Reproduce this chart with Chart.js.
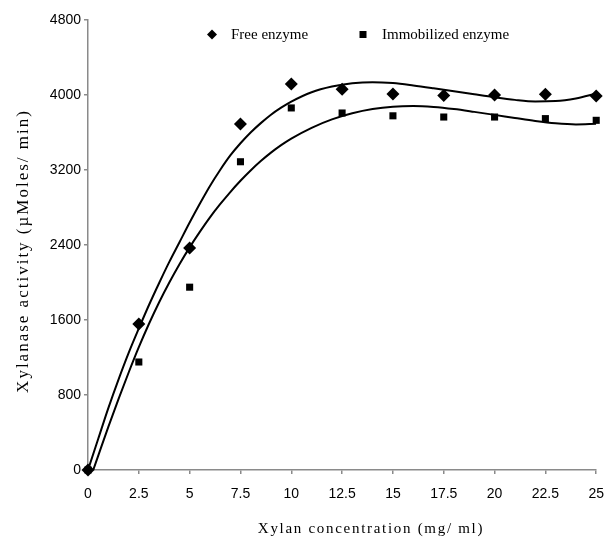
<!DOCTYPE html>
<html>
<head>
<meta charset="utf-8">
<script src="https://cdn.jsdelivr.net/npm/chart.js@4/dist/chart.umd.min.js"></script>
<style>
html,body{margin:0;padding:0;background:#fff;}
#wrap{width:616px;height:538px;position:relative;}
</style>
</head>
<body>
<div id="wrap"><canvas id="c" width="616" height="538"></canvas></div>
<script>
// ---- data ----
const concentrations = [0, 2.5, 5, 7.5, 10, 12.5, 15, 17.5, 20, 22.5, 25];
const freeEnzyme = [0, 1557, 2368, 3692, 4118, 4062, 4010, 3996, 4000, 4007, 3990];
const immobilizedEnzyme = [0, 1152, 1950, 3288, 3862, 3808, 3778, 3765, 3765, 3748, 3730];

// trend curves
const freeFitX = [0, 0.5, 1, 1.5, 2, 2.5, 3, 3.5, 4, 4.5, 5, 5.5, 6, 6.5, 7, 7.5, 8, 8.5, 9, 9.5, 10, 11, 12, 13, 14, 15, 16, 17, 18, 19, 20, 21, 22, 23, 24, 25];
const freeFitY = [0, 330, 660, 965, 1250, 1510, 1760, 1995, 2220, 2430, 2640, 2840, 3030, 3200, 3355, 3485, 3600, 3700, 3790, 3865, 3930, 4030, 4090, 4125, 4137, 4127, 4102, 4072, 4040, 4007, 3975, 3948, 3932, 3935, 3962, 4015];
const immobFitX = [0, 0.5, 1, 1.5, 2, 2.5, 3, 3.5, 4, 4.5, 5, 5.5, 6, 6.5, 7, 7.5, 8, 8.5, 9, 9.5, 10, 11, 12, 13, 14, 15, 16, 17, 18, 19, 20, 21, 22, 23, 24, 25];
const immobFitY = [-160, 150, 460, 755, 1040, 1310, 1560, 1790, 2000, 2195, 2375, 2540, 2695, 2835, 2965, 3085, 3195, 3295, 3385, 3465, 3535, 3650, 3740, 3805, 3850, 3875, 3882, 3872, 3850, 3820, 3788, 3755, 3723, 3698, 3686, 3692];

const xTicks = [0, 2.5, 5, 7.5, 10, 12.5, 15, 17.5, 20, 22.5, 25];
const yTicks = [0, 800, 1600, 2400, 3200, 4000, 4800];

const seriesNames = ['Free enzyme', 'Immobilized enzyme'];
const xTitle = 'Xylan concentration (mg/ ml)';
const yTitle = 'Xylanase activity (\u00B5Moles/ min)';

// ---- build ----
const toPts = (xs, ys) => xs.map((x, i) => ({x: x, y: ys[i]}));
const AXIS = '#8a8a8a';

const decor = {
  id: 'decor',
  afterDraw(chart) {
    const ctx = chart.ctx, a = chart.chartArea;
    ctx.save();
    ctx.fillStyle = '#000';
    // legend
    ctx.font = '15px "Liberation Serif", serif';
    ctx.textAlign = 'left';
    ctx.textBaseline = 'alphabetic';
    const ly = a.top + 14.5;
    // diamond
    let cx = a.left + 124;
    ctx.beginPath();
    ctx.moveTo(cx, ly - 5); ctx.lineTo(cx + 5, ly); ctx.lineTo(cx, ly + 5); ctx.lineTo(cx - 5, ly);
    ctx.closePath(); ctx.fill();
    ctx.fillText(seriesNames[0], a.left + 143, ly + 4.5);
    // square
    cx = a.left + 275;
    ctx.fillRect(cx - 3.5, ly - 3.5, 7, 7);
    ctx.fillText(seriesNames[1], a.left + 294, ly + 4.5);

    // x title
    ctx.font = '15px "Liberation Serif", serif';
    try { ctx.letterSpacing = '1.7px'; } catch (e) {}
    ctx.textAlign = 'center';
    ctx.textBaseline = 'alphabetic';
    ctx.fillText(xTitle, 371, 533);
    // y title
    ctx.font = '17px "Liberation Serif", serif';
    try { ctx.letterSpacing = '2px'; } catch (e) {}
    ctx.translate(24, 251);
    ctx.rotate(-Math.PI / 2);
    ctx.textBaseline = 'middle';
    ctx.fillText(yTitle, 0, 0);
    ctx.restore();
  }
};

new Chart(document.getElementById('c'), {
  type: 'scatter',
  data: {
    datasets: [
      {
        label: seriesNames[0],
        data: toPts(concentrations, freeEnzyme),
        pointStyle: 'rectRot', pointRadius: 6.5,
        backgroundColor: '#000', borderColor: '#000', borderWidth: 0,
        showLine: false, clip: false
      },
      {
        label: seriesNames[1],
        data: toPts(concentrations, immobilizedEnzyme),
        pointStyle: 'rect', pointRadius: 5,
        backgroundColor: '#000', borderColor: '#000', borderWidth: 0,
        showLine: false, clip: false
      },
      {
        label: 'fit1',
        data: toPts(freeFitX, freeFitY),
        showLine: true, pointRadius: 0, borderColor: '#000', borderWidth: 2,
        cubicInterpolationMode: 'monotone', fill: false
      },
      {
        label: 'fit2',
        data: toPts(immobFitX, immobFitY),
        showLine: true, pointRadius: 0, borderColor: '#000', borderWidth: 2,
        cubicInterpolationMode: 'monotone', fill: false
      }
    ]
  },
  options: {
    responsive: false,
    animation: false,
    events: [],
    layout: { padding: { top: 20, right: 16, left: 0, bottom: 0 } },
    plugins: { legend: { display: false }, tooltip: { enabled: false } },
    scales: {
      x: {
        type: 'linear', min: 0, max: 25,
        afterBuildTicks: s => { s.ticks = xTicks.map(v => ({ value: v })); },
        afterFit: s => { s.height = 68; },
        ticks: {
          color: '#000', padding: 12, maxRotation: 0, autoSkip: false,
          font: { family: '"Liberation Sans", Arial, sans-serif', size: 14 },
          callback: v => String(v)
        },
        grid: { display: true, drawOnChartArea: false, drawTicks: true, tickLength: 4, color: AXIS, lineWidth: 1.5 },
        border: { display: true, color: AXIS, width: 1.5 }
      },
      y: {
        type: 'linear', min: 0, max: 4800,
        afterBuildTicks: s => { s.ticks = yTicks.map(v => ({ value: v })); },
        afterFit: s => { s.width = 88; },
        ticks: {
          color: '#000', padding: 3, autoSkip: false,
          font: { family: '"Liberation Sans", Arial, sans-serif', size: 14 },
          callback: v => String(v)
        },
        grid: { display: true, drawOnChartArea: false, drawTicks: true, tickLength: 4, color: AXIS, lineWidth: 1.5 },
        border: { display: true, color: AXIS, width: 1.5 }
      }
    }
  },
  plugins: [decor]
});
</script>
</body>
</html>
